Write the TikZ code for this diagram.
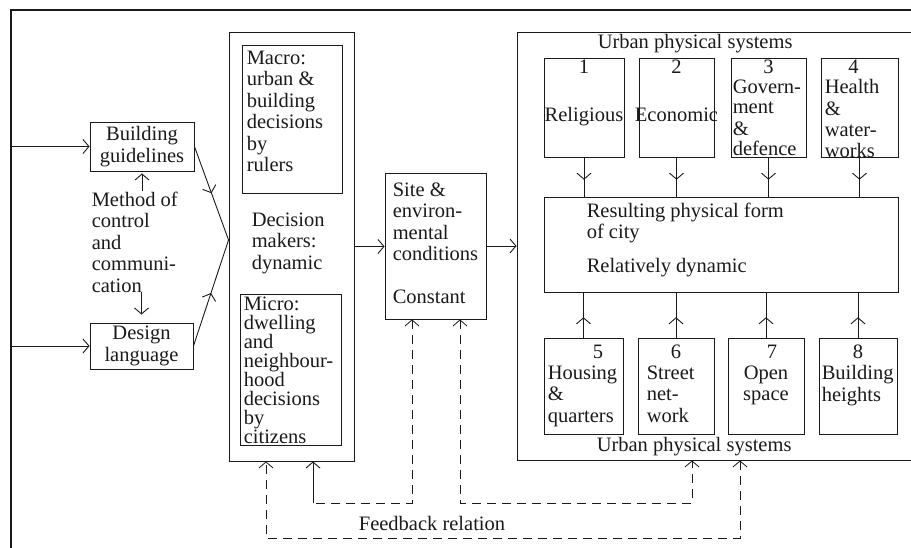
\documentclass[tikz,border=0pt]{standalone}
\usepackage{fontspec}
\setmainfont{Liberation Serif}
\usetikzlibrary{positioning, arrows.meta, decorations.markings}
\definecolor{ink}{HTML}{1A1A1A}
\tikzset{
  box/.style    = {rectangle, draw=ink, line width=0.9pt, inner sep=0pt},
  txt/.style    = {inner sep=0pt, align=left, text=ink,
                   font=\fontsize{20.5}{21.5}\selectfont},
  ctxt/.style   = {txt, align=center},
  num/.style    = {inner sep=0pt, text=ink, font=\fontsize{20.5}{21.5}\selectfont},
  ar/.style     = {-{Straight Barb[length=6pt,width=14pt]}, line width=0.9pt, draw=ink},
  midar/.style  = {line width=0.9pt, draw=ink, postaction={decorate},
                   decoration={markings, mark=at position #1 with
                     {\arrow{Straight Barb[length=6pt,width=14pt]}}}},
  midar/.default = 0.5,
  fb/.style     = {line width=0.8pt, draw=ink, dash pattern=on 9pt off 6pt},
  fbar/.style   = {fb, {Straight Barb[length=6pt,width=14pt]}-{Straight Barb[length=6pt,width=14pt]}},
  rule/.style   = {line width=2pt, draw=ink},
}

\begin{document}
\begin{tikzpicture}[x=1pt, y=-1pt]
  \path[use as bounding box] (0,0) rectangle (911,548);
  \clip (0,0) rectangle (911,548);

  % page frame
  \coordinate (corner) at (11,10);
  \draw[rule] (corner) ++(0,540) -- (corner) -- ++(910,0);

  % left column
  \node[box, ctxt, minimum width=104pt, minimum height=49pt] (bg) at (142,146.5)
       {Building\\guidelines};
  \node[box, ctxt, minimum width=103pt, minimum height=46pt] (dl) at (141.5,346)
       {Design\\language};
  \node[txt, below right=20pt and 2pt of bg.south west] (meth)
       {Method of\\control\\and\\communi-\\cation};
  \draw[ar] (corner |- bg.west) -- (bg.west);
  \draw[ar] (corner |- dl.west) -- (dl.west);
  \draw[ar, shorten >=2pt] (meth.north -| bg.south) -- (bg.south);
  \draw[ar, shorten >=8pt] (meth.south -| dl.north) -- (dl.north);

  % decision makers
  \node[box, minimum width=125pt, minimum height=429pt] (dec) at (291.5,246.5) {};
  \node[box, minimum width=100pt, minimum height=148pt] (macro) at (292,119) {};
  \node[box, minimum width=101pt, minimum height=151pt] (micro) at (290.5,369.5) {};
  \node[txt, below right=6pt and 5pt of macro.north west] (macrot)
       {Macro:\\urban \&\\building\\decisions\\by\\rulers};
  \node[txt, below right=19pt and 10pt of macro.south west] (dect)
       {Decision\\makers:\\dynamic};
  \node[txt, font=\fontsize{20.5}{19}\selectfont, below right=3pt and 4pt of micro.north west] (microt)
       {Micro:\\dwelling\\and\\neighbour-\\hood\\decisions\\by\\citizens};
  \draw[midar] (bg.east) -- ([yshift=6.5pt]dec.west);
  \draw[midar] (dl.east) -- ([yshift=6.5pt]dec.west);

  % site
  \node[box, minimum width=101pt, minimum height=146pt] (site) at (435.5,246) {};
  \node[txt, below right=10pt and 8pt of site.north west] (sitet)
       {Site \&\\environ-\\mental\\conditions\\[21.5pt]Constant};
  \draw[ar] (dec.east) -- (dec.east -| site.west);

  % urban physical systems
  \node[box, minimum width=413pt, minimum height=428pt] (urb) at (723.5,246) {};
  \draw[ar] (site.east) -- (site.east -| urb.west);
  \node[txt, below right=3pt and 81pt of urb.north west] (urbtop) {Urban physical systems};
  \node[txt, above right=4pt and 80pt of urb.south west] (urbbot) {Urban physical systems};

  \node[box, minimum width=80pt, minimum height=99pt] (r1) at (584,107.5) {};
  \node[box, minimum width=75pt, minimum height=99pt] (r2) at (676.5,107.5) {};
  \node[box, minimum width=75pt, minimum height=99pt] (r3) at (768.5,107.5) {};
  \node[box, minimum width=77pt, minimum height=99pt] (r4) at (859.5,107.5) {};
  \node[num, below=2pt of r1.north] (n1) {1};
  \node[num, below=2pt of r2.north] (n2) {2};
  \node[num, below=2pt of r3.north] (n3) {3};
  \node[num, below=2pt of r4.north, xshift=-6pt] (n4) {4};
  \node[ctxt, below=50pt of r1.north] (w1) {Religious};
  \node[ctxt, below=50pt of r2.north] (w2) {Economic};
  \node[txt, below right=22pt and 2pt of r3.north west] (w3)
       {Govern-\\[-1pt]ment\\\&\\[-1pt]defence};
  \node[txt, below right=22pt and 4pt of r4.north west] (w4)
       {Health\\\&\\water-\\[-1pt]works};

  \node[box, minimum width=354pt, minimum height=95pt] (res) at (721,244.5) {};
  \node[txt, below right=6pt and 43pt of res.north west] (rest)
       {Resulting physical form\\of city\\[12pt]Relatively dynamic};

  \node[box, minimum width=79pt, minimum height=96pt] (r5) at (583.5,386) {};
  \node[box, minimum width=76pt, minimum height=96pt] (r6) at (676,386) {};
  \node[box, minimum width=76pt, minimum height=96pt] (r7) at (766,386) {};
  \node[box, minimum width=78pt, minimum height=96pt] (r8) at (858,386) {};
  \node[num, below=7pt of r5.north, xshift=14.5pt] (n5) {5};
  \node[num, below=7pt of r6.north] (n6) {6};
  \node[num, below=7pt of r7.north, xshift=6pt] (n7) {7};
  \node[num, below=7pt of r8.north] (n8) {8};
  \node[txt, below right=28pt and 4pt of r5.north west] (w5) {Housing\\\&\\quarters};
  \node[txt, below right=28pt and 9pt of r6.north west] (w6) {Street\\net-\\work};
  \node[ctxt, below=28pt of r7.north] (w7) {Open\\space};
  \node[txt, below right=28pt and 3pt of r8.north west] (w8) {Building\\heights};

  \foreach \b in {r1,r2,r3,r4}
    \draw[midar=0.57] (\b.south) -- (\b.south |- res.north);
  \foreach \b in {r5,r6,r7,r8}
    \draw[midar=0.45] (\b.north) -- (\b.north |- res.south);

  % feedback
  \coordinate (loopa) at (313,503);
  \coordinate (loopb) at (692,503);
  \coordinate (loopc) at (740,538);
  \draw[fb, {Straight Barb[length=6pt,width=14pt]}-] ([xshift=-23.5pt]site.south) |- (loopa);
  \draw[ar] (loopa) -- (loopa |- dec.south);
  \draw[fbar] ([xshift=24.5pt]site.south) |- (loopb) -- (loopb |- urb.south);
  \draw[fbar] (loopc |- urb.south) -- (loopc) -| ([xshift=-25.5pt]dec.south);
  \node[txt] (fbt) at (432,523) {Feedback relation};
\end{tikzpicture}
\end{document}
